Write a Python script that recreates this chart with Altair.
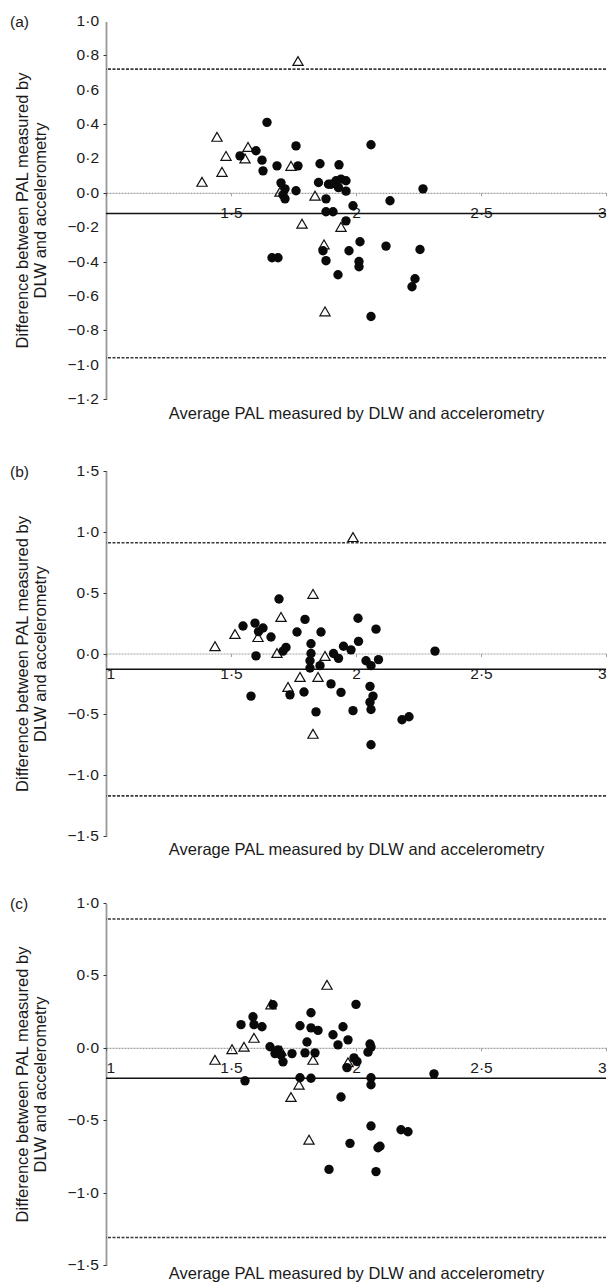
import altair as alt
import pandas as pd

# ---------------- data ----------------
# Panel (a)
a_circ_x = [1.644, 1.536, 1.600, 1.624, 1.628, 1.684, 1.760, 1.768, 1.700, 1.716, 1.708, 1.716, 1.760,
            1.664, 1.688, 1.856, 1.932, 1.940, 1.920, 1.900, 1.960, 1.930, 1.960, 1.850, 1.890, 1.880,
            1.988, 1.880, 1.908, 1.960, 2.136, 2.060, 2.016, 2.120, 2.256, 1.868, 1.972, 1.880, 2.012,
            2.012, 1.928, 2.236, 2.224, 2.060, 2.268]
a_circ_y = [0.41, 0.215, 0.245, 0.19, 0.128, 0.157, 0.273, 0.157, 0.058, 0.023, -0.012, -0.035, 0.012,
            -0.378, -0.378, 0.169, 0.163, 0.08, 0.07, 0.05, 0.07, 0.03, 0.01, 0.06, 0.05, -0.035,
            -0.075, -0.11, -0.11, -0.163, -0.046, 0.28, -0.285, -0.31, -0.33, -0.337, -0.337, -0.395, -0.40,
            -0.43, -0.477, -0.50, -0.547, -0.72, 0.023]
a_tri_x = [1.768, 1.444, 1.480, 1.464, 1.384, 1.568, 1.556, 1.740, 1.696, 1.784, 1.836, 1.940, 1.876, 1.872]
a_tri_y = [0.767, 0.326, 0.215, 0.122, 0.064, 0.267, 0.20, 0.157, 0.006, -0.18, -0.017, -0.198, -0.69, -0.30]
a_lines = [-0.12, 0.72, -0.96]  # mean, upper, lower

# Panel (b)
b_circ_x = [1.692, 1.796, 1.548, 1.596, 1.628, 1.660, 1.764, 1.860, 1.600, 1.720, 1.708, 1.820, 1.820,
            1.816, 1.816, 1.856, 1.736, 1.792, 1.580, 1.840, 2.008, 2.080, 1.950, 1.980, 1.910, 1.930,
            2.010, 2.040, 2.060, 2.090, 2.056, 2.068, 2.056, 2.060, 1.940, 1.900, 1.988, 2.060, 2.316,
            2.184, 2.212, 1.610]
b_circ_y = [0.448, 0.28, 0.226, 0.25, 0.21, 0.136, 0.177, 0.177, -0.02, 0.05, 0.02, 0.08, 0.0,
            -0.06, -0.119, -0.10, -0.34, -0.316, -0.35, -0.48, 0.29, 0.20, 0.06, 0.03, 0.0, -0.04,
            0.10, -0.06, -0.10, -0.05, -0.27, -0.35, -0.40, -0.46, -0.32, -0.25, -0.47, -0.75, 0.02,
            -0.545, -0.52, 0.18]
b_tri_x = [1.828, 1.700, 1.516, 1.436, 1.608, 1.684, 1.876, 1.776, 1.848, 1.728, 1.828, 1.988]
b_tri_y = [0.49, 0.30, 0.16, 0.06, 0.135, 0.004, -0.02, -0.193, -0.193, -0.275, -0.66, 0.957]
b_lines = [-0.13, 0.91, -1.17]

# Panel (c)
c_circ_x = [1.668, 1.588, 1.540, 1.592, 1.624, 1.556, 1.656, 1.688, 1.700, 1.708, 1.744, 1.676, 1.776,
            1.820, 1.820, 1.804, 1.796, 1.836, 1.776, 1.820, 2.000, 1.948, 1.908, 1.928, 1.968, 1.848,
            2.056, 2.060, 2.048, 1.992, 2.004, 1.964, 2.060, 2.060, 1.940, 2.060, 1.976, 2.096, 2.088,
            2.180, 2.208, 1.892, 2.080, 2.312]
c_circ_y = [0.297, 0.214, 0.16, 0.16, 0.145, -0.228, 0.007, -0.014, -0.05, -0.097, -0.04, -0.04, 0.152,
            0.242, 0.138, 0.04, -0.035, -0.035, -0.207, -0.21, 0.30, 0.145, 0.09, 0.02, 0.055, 0.12,
            0.026, 0.005, -0.03, -0.07, -0.095, -0.137, -0.207, -0.255, -0.34, -0.54, -0.66, -0.68, -0.69,
            -0.566, -0.58, -0.84, -0.855, -0.18]
c_tri_x = [1.660, 1.592, 1.552, 1.504, 1.436, 1.828, 1.772, 1.740, 1.884, 1.812, 1.968, 1.700]
c_tri_y = [0.30, 0.069, 0.007, -0.01, -0.083, -0.083, -0.255, -0.34, 0.435, -0.635, -0.10, -0.02]
c_lines = [-0.21, 0.89, -1.31]

x_ticks = [1, 1.5, 2, 2.5, 3]
a_yticks = [1.0, 0.8, 0.6, 0.4, 0.2, 0.0, -0.2, -0.4, -0.6, -0.8, -1.0, -1.2]
b_yticks = [1.5, 1.0, 0.5, 0.0, -0.5, -1.0, -1.5]
c_yticks = [1.0, 0.5, 0.0, -0.5, -1.0, -1.5]

Y_TITLE = ["Difference between PAL measured by", "DLW and accelerometry"]
X_TITLE = "Average PAL measured by DLW and accelerometry"
FONT = "Liberation Sans"
LABEL_FS = 15.5
TITLE_FS = 16.5

xlab_expr = "replace(format(datum.value, '~g'), '.', '\u00b7')"
xlab_expr_no1 = "datum.value == 1 ? '' : replace(format(datum.value, '~g'), '.', '\u00b7')"


def fmt_y(v):
    s = f"{v:.1f}".replace(".", "\u00b7")
    return s.replace("-", "\u2212")


def panel(label, cx, cy, tx, ty, lines, yticks, height, title_off, show_one=True):
    ymin, ymax = min(yticks), max(yticks)
    zero_off = height * (0 - ymin) / (ymax - ymin)
    xs = alt.Scale(domain=[1, 3], nice=False, zero=False)
    ys = alt.Scale(domain=[ymin, ymax], nice=False, zero=False)

    circ = pd.DataFrame({"x": cx, "y": cy})
    tri = pd.DataFrame({"x": tx, "y": ty})
    mean = pd.DataFrame({"y": [lines[0]]})
    lim = pd.DataFrame({"y": lines[1:]})
    ticks = pd.DataFrame({"y": yticks, "t": [fmt_y(v) for v in yticks]})

    xaxis = alt.Axis(values=x_ticks, labelExpr=xlab_expr if show_one else xlab_expr_no1,
                     offset=-zero_off, grid=False, labelOverlap=False,
                     domainColor="#a0a0a0", domainDash=[2, 1], domainWidth=1.2,
                     tickColor="#a0a0a0", tickSize=3, labelPadding=10, labelFontSize=LABEL_FS,
                     labelColor="#1a1a1a", labelFont=FONT,
                     title=X_TITLE, titleFont=FONT, titleFontSize=TITLE_FS, titleFontWeight="normal",
                     titleColor="#1a1a1a", titleBaseline="middle", titleY=zero_off + title_off)
    yaxis = alt.Axis(values=yticks, labels=False, grid=False,
                     domainColor="#333333", domainWidth=1.8, domainDash=[1, 1],
                     tickColor="#333333", tickSize=3,
                     title=Y_TITLE, titleFont=FONT, titleFontSize=TITLE_FS, titleFontWeight="normal",
                     titleColor="#1a1a1a", titlePadding=54)

    base = alt.Chart(circ).mark_point(opacity=0).encode(
        x=alt.X("x:Q", scale=xs, axis=xaxis), y=alt.Y("y:Q", scale=ys, axis=yaxis))
    ylabels = alt.Chart(ticks).mark_text(
        align="right", baseline="middle", font=FONT, fontSize=LABEL_FS, color="#1a1a1a").encode(
        y=alt.Y("y:Q", scale=ys), text="t:N", x=alt.value(-7))
    limits = alt.Chart(lim).mark_rule(color="#3a3a3a", strokeWidth=1.6, strokeDash=[3, 1.5]).encode(
        y=alt.Y("y:Q", scale=ys))
    meanl = alt.Chart(mean).mark_rule(color="#111111", strokeWidth=1.6).encode(
        y=alt.Y("y:Q", scale=ys))
    tris = alt.Chart(tri).mark_point(shape="triangle-up", size=105, filled=False, color="#111111",
                                     strokeWidth=1.2, opacity=1).encode(
        x=alt.X("x:Q", scale=xs), y=alt.Y("y:Q", scale=ys))
    dots = alt.Chart(circ).mark_circle(size=88, color="#0a0a0a", opacity=1).encode(
        x=alt.X("x:Q", scale=xs), y=alt.Y("y:Q", scale=ys))
    lab = alt.Chart(pd.DataFrame({"t": [label]})).mark_text(
        align="left", baseline="middle", font=FONT, fontSize=LABEL_FS, color="#1a1a1a").encode(
        text="t:N", x=alt.value(-96), y=alt.value(1))
    return alt.layer(base, ylabels, limits, meanl, tris, dots, lab).properties(width=500, height=height)


pa = panel("(a)", a_circ_x, a_circ_y, a_tri_x, a_tri_y, a_lines, a_yticks, 378, 14, show_one=False)
pb = panel("(b)", b_circ_x, b_circ_y, b_tri_x, b_tri_y, b_lines, b_yticks, 365, 13)
pc = panel("(c)", c_circ_x, c_circ_y, c_tri_x, c_tri_y, c_lines, c_yticks, 362, 8)

chart = alt.vconcat(alt.vconcat(pa, pb, spacing=42), pc, spacing=38).properties(
    padding={"left": 2, "top": 6, "right": 0, "bottom": 0}, background="white"
).configure_view(stroke=None)

chart.save("out.html", embed_options={"renderer": "svg", "actions": False})
